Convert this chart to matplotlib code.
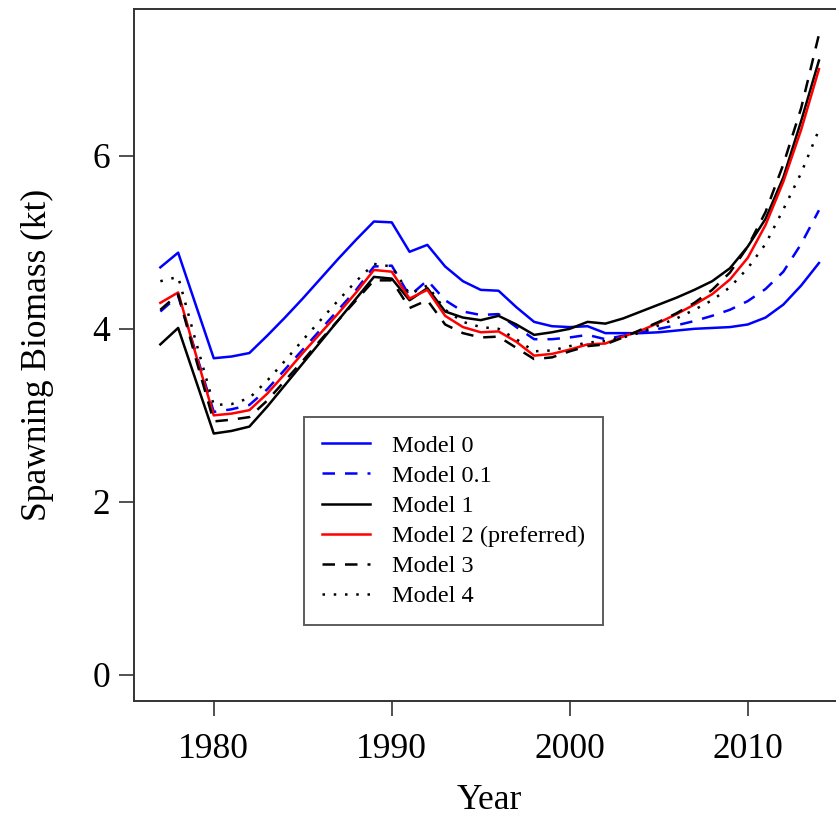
# Biomassa reprodutiva estimada por modelo, 1977-2014

import numpy as np
import matplotlib.pyplot as plt

plt.rcParams['font.family'] = ['Liberation Serif', 'DejaVu Serif']

anos = np.arange(1977, 2015)

# Valores (kt)
model_0 = [4.71, 4.88, 4.27, 3.66, 3.68, 3.72, 3.92, 4.13, 4.35, 4.58,
           4.81, 5.03, 5.24, 5.23, 4.89, 4.97, 4.72, 4.55, 4.45, 4.44,
           4.25, 4.08, 4.03, 4.02, 4.03, 3.95, 3.95, 3.95, 3.96, 3.98,
           4.00, 4.01, 4.02, 4.05, 4.13, 4.28, 4.50, 4.76]
model_01 = [4.20, 4.38, 3.72, 3.04, 3.07, 3.12, 3.30, 3.53, 3.76, 3.99,
            4.22, 4.45, 4.72, 4.73, 4.38, 4.56, 4.33, 4.20, 4.16, 4.17,
            4.02, 3.88, 3.88, 3.90, 3.93, 3.88, 3.92, 3.96, 4.00, 4.04,
            4.09, 4.15, 4.22, 4.32, 4.46, 4.66, 4.98, 5.37]
model_1 = [3.82, 4.01, 3.40, 2.79, 2.82, 2.87, 3.10, 3.35, 3.60, 3.85,
           4.10, 4.35, 4.60, 4.58, 4.33, 4.47, 4.20, 4.13, 4.10, 4.15,
           4.05, 3.93, 3.96, 4.00, 4.08, 4.06, 4.12, 4.20, 4.28, 4.36,
           4.45, 4.55, 4.70, 4.95, 5.27, 5.75, 6.40, 7.10]
model_2 = [4.30, 4.42, 3.70, 3.00, 3.02, 3.06, 3.25, 3.48, 3.72, 3.95,
           4.18, 4.42, 4.68, 4.66, 4.35, 4.45, 4.15, 4.02, 3.96, 3.97,
           3.85, 3.69, 3.71, 3.76, 3.82, 3.83, 3.91, 3.98, 4.07, 4.17,
           4.28, 4.40, 4.57, 4.82, 5.20, 5.70, 6.30, 7.00]
model_3 = [4.22, 4.40, 3.65, 2.93, 2.95, 2.98, 3.17, 3.40, 3.63, 3.87,
           4.10, 4.33, 4.56, 4.56, 4.24, 4.33, 4.05, 3.95, 3.90, 3.91,
           3.78, 3.65, 3.67, 3.74, 3.80, 3.82, 3.90, 3.99, 4.08, 4.18,
           4.30, 4.45, 4.65, 4.95, 5.35, 5.90, 6.55, 7.40]
model_4 = [4.55, 4.60, 3.85, 3.12, 3.13, 3.20, 3.40, 3.63, 3.87, 4.10,
           4.33, 4.55, 4.75, 4.72, 4.40, 4.50, 4.22, 4.08, 4.02, 4.00,
           3.88, 3.74, 3.75, 3.80, 3.84, 3.86, 3.90, 3.96, 4.04, 4.12,
           4.22, 4.33, 4.48, 4.70, 4.98, 5.38, 5.80, 6.30]

nomes = ["Model 0", "Model 0.1", "Model 1", "Model 2 (preferred)",
         "Model 3", "Model 4"]
series = [model_0, model_01, model_1, model_2, model_3, model_4]
cores = ["blue", "blue", "black", "red", "black", "black"]
tracos = ["-", (0, (5, 4)), "-", "-", (0, (5, 4)), (0, (1, 3.5))]

fig = plt.figure(figsize=(8.37, 8.22), dpi=100)
ax = fig.add_axes([0.1601, 0.1477, 0.8498, 0.8414])

for y, nome, c, ls in zip(series, nomes, cores, tracos):
    ax.plot(anos, y, color=c, linestyle=ls, lw=1.8, label=nome)

# Limites no estilo do R (4% de folga)
todos = np.concatenate(series)
x0, x1 = anos.min(), anos.max()
y0, y1 = 0, todos.max()
dx, dy = 0.04 * (x1 - x0), 0.04 * (y1 - y0)
ax.set_xlim(x0 - dx, x1 + dx)
ax.set_ylim(y0 - dy, y1 + dy)

ax.set_xticks([1980, 1990, 2000, 2010])
ax.set_yticks([0, 2, 4, 6])
ax.tick_params(direction="out", length=11, width=1.2, labelsize=25.5,
               color="#333333")
ax.tick_params(axis="x", pad=12)
ax.tick_params(axis="y", pad=6)
for s in ax.spines.values():
    s.set_linewidth(1.4)
    s.set_color("#333333")

ax.set_xlabel("Year", fontsize=25.5, labelpad=13)
ax.set_ylabel("Spawning Biomass (kt)", fontsize=25.5, labelpad=28)

leg = ax.legend(loc="upper left", bbox_to_anchor=(304 / 837, 1 - 416.7 / 822),
                bbox_transform=fig.transFigure, fontsize=17.5,
                fancybox=False, frameon=True, edgecolor="#333333",
                handlelength=1.95, handletextpad=0.9, borderpad=0.75,
                labelspacing=0.33, borderaxespad=0)
leg.get_frame().set_linewidth(1.4)

plt.savefig("out.png", dpi=100)
